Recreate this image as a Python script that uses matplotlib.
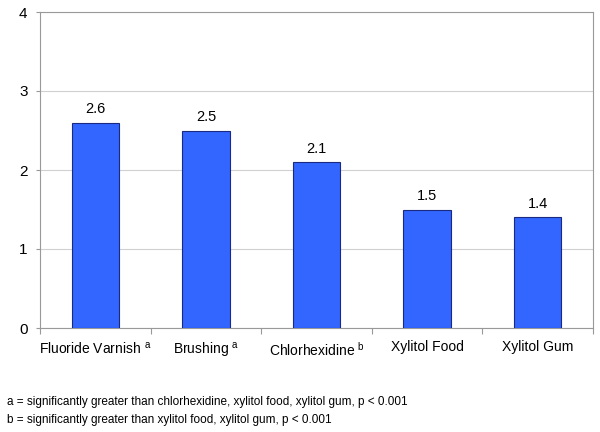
import matplotlib
matplotlib.use("Agg")
import matplotlib.pyplot as plt
import numpy as np

plt.rcParams['font.family'] = ['Liberation Sans', 'DejaVu Sans']
plt.rcParams['mathtext.fontset'] = 'custom'
plt.rcParams['mathtext.rm'] = 'Liberation Sans'

labels = ["Fluoride Varnish $^{\\rm a}$", "Brushing $^{\\rm a}$", "Chlorhexidine $^{\\rm b}$",
          "Xylitol Food", "Xylitol Gum"]
values = [2.6, 2.5, 2.1, 1.5, 1.4]
notes = ["a = significantly greater than chlorhexidine, xylitol food, xylitol gum, p < 0.001",
         "b = significantly greater than xylitol food, xylitol gum, p < 0.001"]

fig = plt.figure(figsize=(6, 4.32), dpi=100)
ax = fig.add_axes([40/600, 1-328/432, 553/600, 316/432])

x = np.arange(len(values))
ax.bar(x, values, width=0.43, color='#3366ff', edgecolor='#1a2a80', linewidth=0.8, zorder=3)
for xi, v in zip(x, values):
    ax.text(xi, v + 0.08, f"{v}", ha='center', va='bottom', fontsize=10.5)

ax.set_xlim(-0.5, len(values) - 0.5)
ax.set_ylim(0, 4)
ax.set_yticks([0, 1, 2, 3, 4])
ax.tick_params(axis='y', labelsize=11, length=3, color='#999999', pad=6)
ax.yaxis.grid(True, color='#d0d0d0', linewidth=0.8, zorder=0)

# category boundary ticks
ax.set_xticks(np.arange(len(values) + 1) - 0.5)
ax.set_xticklabels([])
ax.tick_params(axis='x', length=4, color='#999999')
ax.set_xticks(x, minor=True)
ax.set_xticklabels(labels, minor=True, fontsize=10)
ax.tick_params(axis='x', which='minor', length=0, pad=9)

for s in ['left', 'bottom', 'right', 'top']:
    ax.spines[s].set_color('#999999')

fig.text(7/600, 1-402/432, notes[0], fontsize=8.5, va='center')
fig.text(7/600, 1-420/432, notes[1], fontsize=8.5, va='center')

fig.savefig("out.png", dpi=100)
